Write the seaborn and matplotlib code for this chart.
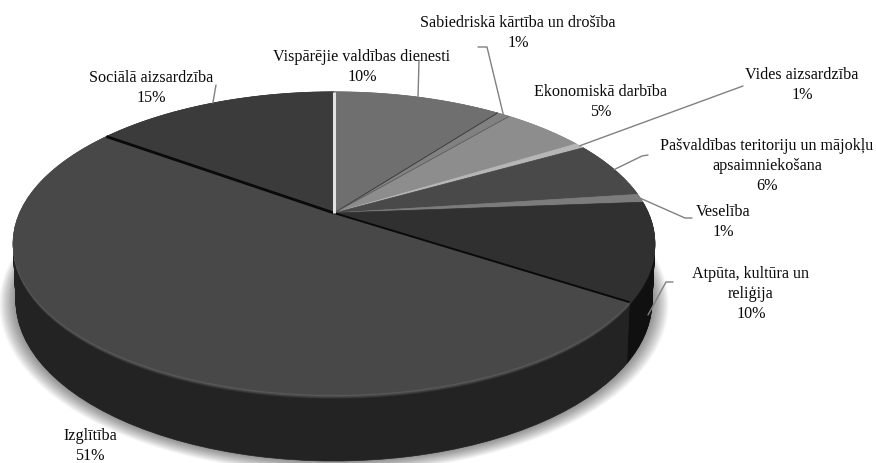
import numpy as np
import matplotlib
matplotlib.use("Agg")
import matplotlib.pyplot as plt
import matplotlib.transforms as mtransforms
from matplotlib.path import Path
import seaborn as sns

# ---- data ----
categories = ["Vispārējie valdības dienesti", "Sabiedriskā kārtība un drošība",
              "Ekonomiskā darbība", "Vides aizsardzība",
              "Pašvaldības teritoriju un mājokļu\napsaimniekošana", "Veselība",
              "Atpūta, kultūra un\nreliģija", "Izglītība", "Sociālā aizsardzība"]
values = [10.3, 0.8, 5.1, 0.6, 6.1, 0.9, 10.4, 50.8, 15.0]

# ---- styles ----
top_colors = ["#6f6f6f", "#818181", "#8d8d8d", "#b6b6b6", "#494949",
              "#7c7c7c", "#303030", "#484848", "#3b3b3b"]
wall_colors = ["#3a3a3a", "#444444", "#4a4a4a", "#5a5a5a", "#262626",
               "#3c3c3c", "#101010", "#232323", "#1c1c1c"]
bevel_colors = ["#7f7f7f", "#919191", "#9d9d9d", "#c6c6c6", "#5c5c5c",
                "#8c8c8c", "#3c3c3c", "#6a6a6a", "#4c4c4c"]
# separators: index of the slice after which the line is drawn
separators = {0: ("#3a3a3a", 0.7), 1: ("#5a5a5a", 0.6), 6: ("#0a0a0a", 1.4),
              7: ("#0a0a0a", 2.0), 8: ("#e2e2e2", 2.2)}
# label centre in pixels, leader knots in pixels
label_pos = [(362, 67), (518, 33), (601, 102), (802, 85), (767, 166),
             (723, 222), (751, 294), (90, 446), (151, 88)]
leader_knots = [[(419, 60)], [(478, 47), (487, 47)], [], [(743, 86)],
                [(648, 155), (642, 156)], [(692, 218), (685, 218)],
                [(673, 282), (666, 282)], [], [(216, 85)]]
leader_end = {6: (648, 315)}

sns.set_theme(style="white")
plt.rcParams["font.family"] = ["Liberation Serif", "DejaVu Serif"]

fig, ax = plt.subplots(figsize=(8.76, 4.63), dpi=100)
fig.subplots_adjust(0, 0, 1, 1)


class Perspective(mtransforms.Transform):
    """Unit-disc pie plane -> tilted view in image pixels."""
    input_dims = 2
    output_dims = 2
    has_inverse = False

    def __init__(self, x0, y0, A, B, c=0.2):
        super().__init__()
        self.x0, self.y0, self.A, self.B, self.c = x0, y0, A, B, c

    def transform_non_affine(self, values):
        values = np.asarray(values, float)
        u, v = values[:, 0], values[:, 1]
        d = 1 + self.c * v
        return np.column_stack([self.x0 + self.A * u / d, self.y0 - self.B * v / d])

    def transform_path_non_affine(self, path):
        if path.codes is None:
            return Path(self.transform_non_affine(path.vertices))
        k = 600.0
        poly = path.transformed(mtransforms.Affine2D().scale(k)).to_polygons(closed_only=True)[0] / k
        return Path(self.transform_non_affine(poly))


TOP = np.array([334.0, 213.0, 314.4, 145.4])
BOT = np.array([334.0, 269.0, 311.6, 153.6])


def plane(z):
    return Perspective(*(TOP + (BOT - TOP) * z)) + ax.transData


def layer(colors, z, radius=1.0, alpha=None):
    wedges, _ = ax.pie(values, colors=colors, startangle=90, counterclock=False,
                       radius=radius, wedgeprops=dict(linewidth=0.5, alpha=alpha))
    tr = plane(z)
    for w in wedges:
        w.set_transform(tr)
        w.set_edgecolor(w.get_facecolor() if alpha is None else "none")
        w.set_clip_on(False)


# soft shadow under the disc
for r in np.linspace(1.05, 1.002, 18):
    layer(["#000000"] * len(values), 1.0, radius=r, alpha=0.028)

# extruded wall, bottom to top
for z in np.linspace(1, 0.07, 70):
    layer(wall_colors, z)
for z in np.linspace(0.07, 0.0, 7):
    f = 1 - z / 0.07
    cols = [sns.blend_palette([w, b], 10)[int(round(f * 9))]
            for w, b in zip(wall_colors, bevel_colors)]
    layer(cols, z)
layer(top_colors, 0.0)
top_tr = plane(0.0)

# slice separators and leaders, from the cumulative values
total = sum(values)
cum = np.cumsum(values) / total
for i, (col, lw) in separators.items():
    a = 2 * np.pi * cum[i]
    ax.plot([0, np.sin(a)], [0, np.cos(a)], color=col, lw=lw, transform=top_tr,
            solid_capstyle="butt", zorder=5)

px = Perspective(*TOP)
for i, (name, v) in enumerate(zip(categories, values)):
    mid = 2 * np.pi * (cum[i] - v / total / 2)
    rim = px.transform_non_affine(np.array([[np.sin(mid), np.cos(mid)]]))[0]
    end = leader_end.get(i, rim)
    knots = leader_knots[i]
    if knots:
        xs = [k[0] for k in knots] + [end[0]]
        ys = [k[1] for k in knots] + [end[1]]
        ax.plot(xs, ys, color="#808080", lw=1.0, zorder=6)
    ax.text(*label_pos[i], f"{name}\n{v:.0f}%", ha="center", va="center",
            fontsize=11.6, color="#0a0a0a", linespacing=1.36, zorder=7)

ax.set_aspect("auto")
ax.set_xlim(0, 876)
ax.set_ylim(463, 0)
ax.set_axis_off()
fig.savefig("out.png", dpi=100, facecolor="white")
